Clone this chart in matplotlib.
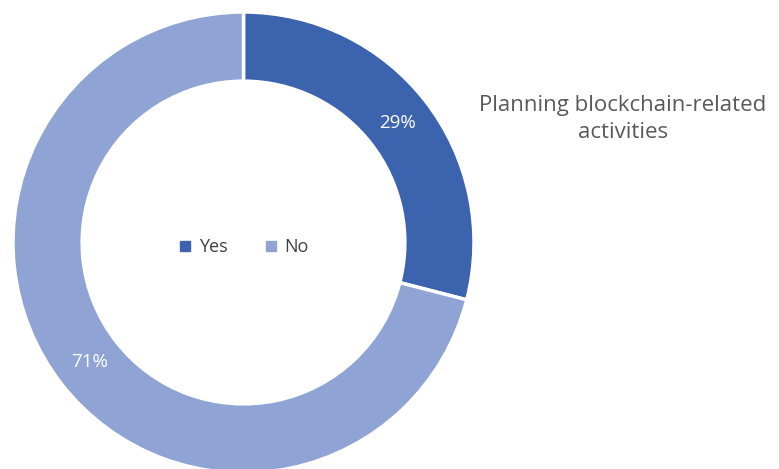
import matplotlib
matplotlib.use("Agg")
import matplotlib.pyplot as plt
from matplotlib.lines import Line2D

categories = ["Yes", "No"]
values = [29, 71]
colors = ["#3C64AE", "#8FA4D5"]
title_text = "Planning blockchain-related\nactivities"

W, H = 779, 469
fig = plt.figure(figsize=(W / 100, H / 100), dpi=100)
plt.rcParams['font.family'] = ['Open Sans', 'DejaVu Sans']

cx, cy, R = 243.5, 242.5, 230.5
ax = fig.add_axes([(cx - R) / W, (H - cy - R) / H, 2 * R / W, 2 * R / H])
wedges, _, autotexts = ax.pie(
    values, colors=colors, startangle=90, counterclock=False,
    radius=1.0, autopct=lambda p: f"{p:.0f}%", pctdistance=0.845,
    wedgeprops=dict(width=0.30, edgecolor="white", linewidth=2.5),
    textprops=dict(color="white", fontsize=13.5),
)
ax.set_xlim(-1, 1)
ax.set_ylim(-1, 1)
ax.axis("off")

handles = [Line2D([0], [0], marker="s", linestyle="none", markersize=6.5,
                  markerfacecolor=c, markeredgecolor=c) for c in colors]
leg = ax.legend(handles, categories, loc="center", bbox_to_anchor=(0.5, 0.49),
                ncol=2, frameon=False, fontsize=13, handletextpad=0.35,
                columnspacing=2.0, handlelength=0.8)
for t in leg.get_texts():
    t.set_color("#404040")

fig.text(623 / W, 1 - 119 / H, title_text, ha="center", va="center",
         fontsize=16, color="#595959", linespacing=1.35)

fig.savefig("out.png", dpi=100)
